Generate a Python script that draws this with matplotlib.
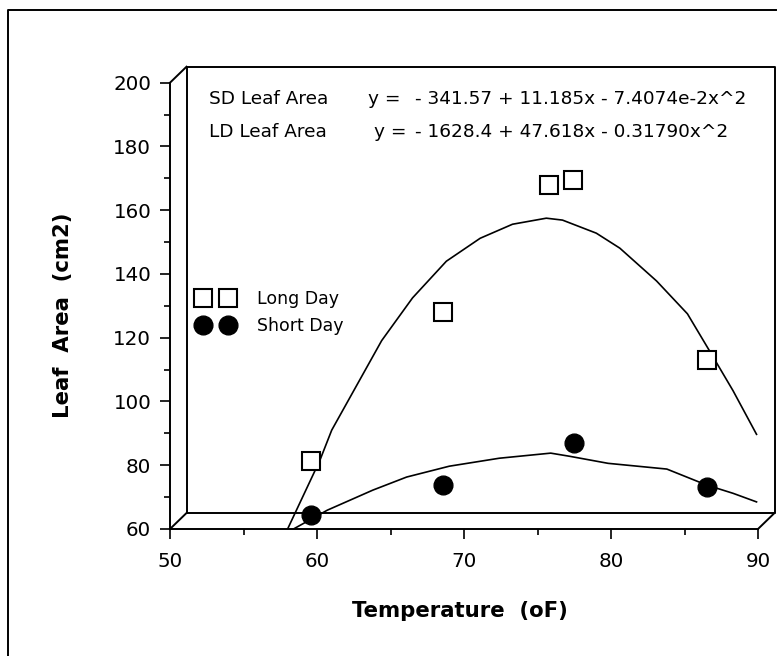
import matplotlib
matplotlib.use('Agg')
import matplotlib.pyplot as plt
from matplotlib.lines import Line2D
from matplotlib.ticker import MultipleLocator

# --- data ---
ld_temp = [59.6, 68.6, 75.8, 77.4, 86.5]
ld_area = [81.3, 128.1, 167.8, 169.4, 113.1]
sd_temp = [59.6, 68.6, 77.5, 86.5]
sd_area = [64.4, 73.8, 86.9, 73.3]

# fitted curves as drawn in the picture
ld_fit_x = [58.0, 60.2, 61.0, 64.4, 66.5, 68.8, 71.1, 73.3, 75.6, 76.7, 79.0, 80.6, 83.1, 85.2, 86.7, 88.3, 89.9]
ld_fit_y = [60.0, 81.6, 91.0, 119.1, 132.5, 144.0, 151.2, 155.6, 157.5, 156.9, 152.8, 148.1, 137.8, 127.5, 115.9, 103.4, 89.7]
sd_fit_x = [58.4, 60.7, 63.8, 66.1, 69.0, 72.4, 75.9, 77.2, 79.8, 83.8, 86.5, 88.3, 89.9]
sd_fit_y = [60.0, 65.9, 72.2, 76.3, 79.7, 82.2, 83.8, 82.8, 80.6, 78.8, 73.8, 71.2, 68.5]

sd_eq = '- 341.57 + 11.185x - 7.4074e-2x^2'
ld_eq = '- 1628.4 + 47.618x - 0.31790x^2'

W, H = 778, 656
fig = plt.figure(figsize=(W / 100, H / 100), dpi=100)
fig.patch.set_facecolor('white')

def fx(px):
    return px / W

def fy(py):
    return 1 - py / H

ax = fig.add_axes([fx(170), fy(529), fx(758) - fx(170), fy(82.7) - fy(529)])
ax.set_xlim(50, 90)
ax.set_ylim(60, 200)
ax.set_facecolor('none')

for s in ['top', 'right']:
    ax.spines[s].set_visible(False)
for s in ['left', 'bottom']:
    ax.spines[s].set_linewidth(1.4)

ax.xaxis.set_major_locator(MultipleLocator(10))
ax.xaxis.set_minor_locator(MultipleLocator(5))
ax.yaxis.set_major_locator(MultipleLocator(20))
ax.yaxis.set_minor_locator(MultipleLocator(10))
ax.tick_params(which='major', direction='out', length=7.5, width=1.2, labelsize=14.3)
ax.tick_params(axis='x', which='major', pad=9)
ax.tick_params(axis='y', which='major', pad=6)
ax.tick_params(which='minor', direction='out', length=4.5, width=1.2)

# pseudo 3D back wall
dx = 16.5 / 588
dy = 16 / 446.6
lk = dict(color='black', lw=1.4, transform=ax.transAxes, clip_on=False)
ax.plot([dx, dx, 1 + dx, 1 + dx, dx], [dy, 1 + dy, 1 + dy, dy, dy], **lk)
ax.plot([0, dx], [1, 1 + dy], **lk)
ax.plot([0, dx], [0, dy], **lk)
ax.plot([1, 1 + dx], [0, dy], **lk)

# curves and points
ax.plot(ld_fit_x, ld_fit_y, color='black', lw=1.2)
ax.plot(sd_fit_x, sd_fit_y, color='black', lw=1.2)
ld_h, = ax.plot(ld_temp, ld_area, 's', ms=13, mfc='white', mec='black', mew=1.5,
                label='Long Day', clip_on=False)
sd_h, = ax.plot(sd_temp, sd_area, 'o', ms=13.5, mfc='black', mec='black',
                label='Short Day', clip_on=False)

leg = ax.legend(handles=[ld_h, sd_h], loc='upper left', bbox_to_anchor=(fx(198), fy(290)),
                bbox_transform=fig.transFigure, frameon=False, numpoints=2,
                fontsize=12.5, handlelength=2.03, handletextpad=1.35,
                labelspacing=0.52, borderpad=0, borderaxespad=0)

# equations
fs_eq = 13.3
ax.text(fx(209), fy(99), 'SD Leaf Area', transform=fig.transFigure, fontsize=fs_eq, va='center')
ax.text(fx(368), fy(99), 'y =', transform=fig.transFigure, fontsize=fs_eq, va='center')
ax.text(fx(415), fy(99), sd_eq, transform=fig.transFigure, fontsize=fs_eq, va='center')
ax.text(fx(209), fy(132), 'LD Leaf Area', transform=fig.transFigure, fontsize=fs_eq, va='center')
ax.text(fx(374), fy(132), 'y =', transform=fig.transFigure, fontsize=fs_eq, va='center')
ax.text(fx(415), fy(132), ld_eq, transform=fig.transFigure, fontsize=fs_eq, va='center')

# axis labels
fig.text(fx(63), fy(315), 'Leaf  Area  (cm2)', rotation=90, fontsize=15.3,
         fontweight='bold', ha='center', va='center')
fig.text(fx(460), fy(611), 'Temperature  (oF)', fontsize=15.3,
         fontweight='bold', ha='center', va='center')

# outer frame
fig.add_artist(Line2D([fx(8), fx(8), fx(776)], [0, fy(10), fy(10)],
                      transform=fig.transFigure, color='black', lw=1.4))

fig.savefig('out.png', dpi=100, facecolor='white')
